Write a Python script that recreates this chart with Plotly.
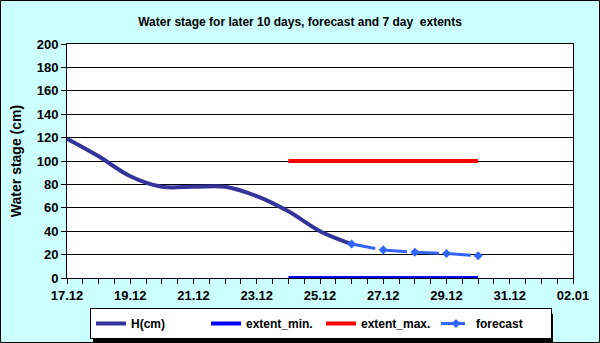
import plotly.graph_objects as go

# Data
h_dates = ["2010-12-17", "2010-12-18", "2010-12-19", "2010-12-20", "2010-12-21",
           "2010-12-22", "2010-12-23", "2010-12-24", "2010-12-25", "2010-12-26"]
h_values = [119, 104, 87, 78, 78, 78, 70, 57, 40, 29]

ext_dates = ["2010-12-24", "2010-12-30"]
ext_min = [0, 0]
ext_max = [100, 100]

fc_dates = ["2010-12-26", "2010-12-27", "2010-12-28", "2010-12-29", "2010-12-30"]
fc_values = [29, 24, 22, 21, 19]

y_ticks = [0, 20, 40, 60, 80, 100, 120, 140, 160, 180, 200]

W, H = 600, 343
L, R, T, B = 67, 573, 44, 278
pw, ph = R - L, B - T

def px(x):
    return (x - L) / pw

def py(y):
    return (B - y) / ph

fig = go.Figure()
fig.add_trace(go.Scatter(x=h_dates, y=h_values, name="H(cm)", mode="lines",
                         line=dict(color="#333399", width=4, shape="spline")))
fig.add_trace(go.Scatter(x=ext_dates, y=ext_min, name="extent_min.", mode="lines",
                         line=dict(color="#0000ff", width=4)))
fig.add_trace(go.Scatter(x=ext_dates, y=ext_max, name="extent_max.", mode="lines",
                         line=dict(color="#ff0000", width=4)))
fig.add_trace(go.Scatter(x=fc_dates, y=fc_values, name="forecast", mode="lines+markers",
                         line=dict(color="#3366ff", width=3, dash="24px,8px"),
                         marker=dict(symbol="diamond", size=7, color="#3366ff")))

FF = "Liberation Sans, Arial"
bold = dict(family=FF, size=12, color="black", weight="bold")

fig.update_layout(
    width=W, height=H,
    margin=dict(l=L, r=W - R, t=T, b=H - B, autoexpand=False),
    paper_bgcolor="#ccffff",
    plot_bgcolor="white",
    font=dict(family=FF, size=12, color="black"),
    title=dict(text="Water stage for later 10 days, forecast and 7 day  extents",
               x=0.5, xanchor="center", y=1 - 22 / H, yanchor="middle",
               font=bold),
    showlegend=True,
    legend=dict(orientation="h", x=px(90), xanchor="left", y=py(308), yanchor="top",
                bgcolor="white", bordercolor="black", borderwidth=1,
                font=bold, entrywidth=70, itemwidth=30, tracegroupgap=0),
    xaxis=dict(type="date", range=["2010-12-17", "2011-01-02"],
               tickformat="%d.%m", dtick=2 * 86400000, tick0="2010-12-17",
               ticks="outside", ticklen=5, tickcolor="black",
               showgrid=False, showline=True, linecolor="black", linewidth=1,
               mirror=True, tickfont=dict(family=FF, size=13, color="black", weight="bold"),
               minor=dict(dtick=86400000 / 2, ticks="outside", ticklen=5, tickcolor="black"),
               zeroline=False, automargin=False),
    yaxis=dict(range=[0, 200], tickvals=y_ticks, ticks="outside", ticklen=5, tickcolor="black",
               showgrid=True, gridcolor="black", gridwidth=1,
               showline=True, linecolor="black", linewidth=1, mirror=True,
               tickfont=dict(family=FF, size=13, color="black", weight="bold"),
               title=dict(text="Water stage (cm)", standoff=11,
                          font=dict(family=FF, size=14, color="black", weight="bold")),
               zeroline=False, automargin=False),
)

# legend shadow
fig.add_shape(type="rect", xref="paper", yref="paper",
              x0=px(93), x1=px(553), y0=py(342), y1=py(314),
              fillcolor="black", line=dict(width=0), layer="below")
# outer border
fig.add_shape(type="rect", xref="paper", yref="paper",
              x0=px(0.5), x1=px(W - 0.5), y0=py(H - 0.5), y1=py(0.5),
              line=dict(color="black", width=1), fillcolor="rgba(0,0,0,0)", layer="above")

fig.write_html("out.html", config={"displayModeBar": False},
               post_script="document.body.style.margin='0';")
